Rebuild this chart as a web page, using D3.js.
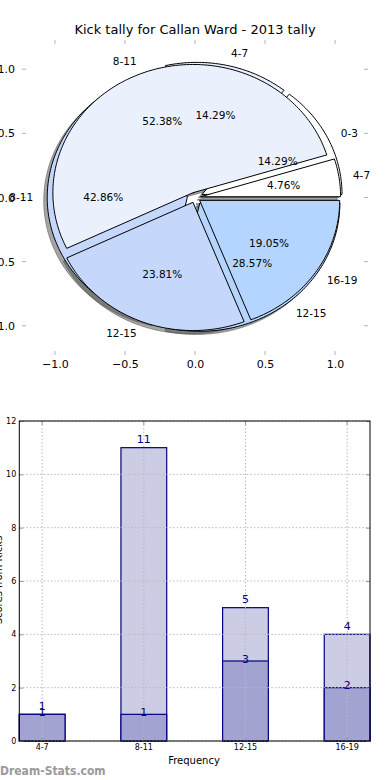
<!DOCTYPE html>
<html><head><meta charset="utf-8">
<script src="https://cdn.jsdelivr.net/npm/d3@7"></script>
<style>body{margin:0;background:#fff}svg{display:block;font-family:"DejaVu Sans",sans-serif}</style>
</head><body>
<svg id="c" width="390" height="780"></svg>
<script>
const title = "Kick tally for Callan Ward - 2013 tally";
const categories = ["4-7", "8-11", "12-15", "16-19"];
const kicks = [1, 11, 5, 4];
const scores = [1, 1, 3, 2];
const scoreLabels = ["0-3", "4-7", "8-11", "12-15"];
const pieTicks = [-1, -0.5, 0, 0.5, 1];
const barTicks = [0, 2, 4, 6, 8, 10, 12];
const xLabel = "Frequency";
const yLabel = "Scores from Kicks";
const watermark = "Dream-Stats.com";

const pieColors = ["#ffffff", "#eaf1fd", "#c5d8fb", "#b3d5ff"];
const navy = "#000080";

const svg = d3.select("#c");

// ---------- PIE ----------
const px = d3.scaleLinear().domain([-1.235, 1.235]).range([22, 368]);
const py = d3.scaleLinear().domain([-1.228, 1.228]).range([355, 40]);

svg.append("text").attr("x", 195).attr("y", 34).attr("text-anchor", "middle")
  .attr("font-size", 13).attr("fill", "#000").text(title);

const tickCol = "#b5b5b5";
const gT = svg.append("g");
pieTicks.forEach(t => {
  gT.append("line").attr("x1", px(t)).attr("x2", px(t)).attr("y1", 40).attr("y2", 44).attr("stroke", tickCol);
  gT.append("line").attr("x1", px(t)).attr("x2", px(t)).attr("y1", 355).attr("y2", 351).attr("stroke", tickCol);
  gT.append("line").attr("y1", py(t)).attr("y2", py(t)).attr("x1", 22).attr("x2", 26).attr("stroke", tickCol);
  gT.append("line").attr("y1", py(t)).attr("y2", py(t)).attr("x1", 368).attr("x2", 364).attr("stroke", tickCol);
});
const fmt = d3.format(".1f");
const axB = d3.axisBottom(px).tickValues(pieTicks).tickFormat(fmt).tickSize(0).tickPadding(5);
const gB = svg.append("g").attr("transform", "translate(0,355)").call(axB);
gB.select(".domain").remove();
gB.selectAll("text").attr("font-size", 11).attr("fill", "#000").attr("font-family", "DejaVu Sans");
const axL = d3.axisLeft(py).tickValues(pieTicks).tickFormat(fmt).tickSize(0).tickPadding(7);
const gL = svg.append("g").attr("transform", "translate(22,0)").call(axL);
gL.select(".domain").remove();
gL.selectAll("text").attr("font-size", 11).attr("fill", "#000").attr("font-family", "DejaVu Sans");

const line = d3.line().x(d => px(d[0])).y(d => py(d[1]));
function wedgePts(a0, a1, cx, cy, r) {
  const pts = [[cx, cy]];
  const n = Math.max(2, Math.ceil((a1 - a0) / 0.02));
  for (let i = 0; i <= n; i++) {
    const a = a0 + (a1 - a0) * i / n;
    pts.push([cx + r * Math.cos(a), cy + r * Math.sin(a)]);
  }
  return pts;
}
const pieGen = d3.pie().sort(null).startAngle(0).endAngle(2 * Math.PI);
function build(values, labels, explode) {
  return pieGen(values).map((d, i) => {
    const mid = (d.startAngle + d.endAngle) / 2;
    const cx = explode * Math.cos(mid), cy = explode * Math.sin(mid);
    return {a0: d.startAngle, a1: d.endAngle, mid, cx, cy, label: labels[i],
            pct: d.value / d3.sum(values) * 100, color: pieColors[i]};
  });
}
const pie2 = build(scores, scoreLabels, 0.055);
const pie1 = build(kicks, categories, 0.04);

const sOff = 0.025;
const gS = svg.append("g");
[pie2, pie1].forEach(p => p.forEach(w => {
  gS.append("path").attr("d", line(wedgePts(w.a0, w.a1, w.cx - sOff, w.cy - sOff, 1)) + "Z")
    .attr("fill", "#4d4d4d").attr("fill-opacity", 0.5).attr("stroke", "#4d4d4d").attr("stroke-opacity", 0.5);
}));
[pie2, pie1].forEach(p => p.forEach(w => {
  svg.append("path").attr("d", line(wedgePts(w.a0, w.a1, w.cx, w.cy, 1)) + "Z")
    .attr("fill", w.color).attr("stroke", "#000").attr("stroke-width", 1).attr("stroke-linejoin", "miter");
}));
[pie2, pie1].forEach(p => p.forEach(w => {
  const lx = w.cx + 1.1 * Math.cos(w.mid), ly = w.cy + 1.1 * Math.sin(w.mid);
  svg.append("text").attr("x", px(lx)).attr("y", py(ly)).attr("dy", "0.35em")
    .attr("text-anchor", lx > 0 ? "start" : "end").attr("font-size", 10.5).attr("fill", "#000").text(w.label);
  const tx = w.cx + 0.6 * Math.cos(w.mid), ty = w.cy + 0.6 * Math.sin(w.mid);
  svg.append("text").attr("x", px(tx)).attr("y", py(ty)).attr("dy", "0.35em")
    .attr("text-anchor", "middle").attr("font-size", 10.5).attr("fill", "#000").text(w.pct.toFixed(2) + "%");
}));

// ---------- BARS ----------
const L = 19.3, R = 370, T = 421, B = 741;
const bx = d3.scaleBand().domain(categories).range([L, R]).paddingInner(0.55).paddingOuter(0);
const by = d3.scaleLinear().domain([0, 12]).range([B, T]);

const gBars = svg.append("g");
categories.forEach((c, i) => {
  gBars.append("rect").attr("x", bx(c)).attr("width", bx.bandwidth())
    .attr("y", by(kicks[i])).attr("height", by(0) - by(kicks[i]))
    .attr("fill", "#ccccE5").attr("stroke", navy).attr("stroke-width", 1.2);
});
categories.forEach((c, i) => {
  gBars.append("rect").attr("x", bx(c)).attr("width", bx.bandwidth())
    .attr("y", by(scores[i])).attr("height", by(0) - by(scores[i]))
    .attr("fill", "#a3a3d2").attr("stroke", navy).attr("stroke-width", 1.2);
});

const gG = svg.append("g").attr("stroke", "#b8b8b8").attr("stroke-dasharray", "1.5,2").attr("stroke-width", 1);
barTicks.forEach(t => gG.append("line").attr("x1", L).attr("x2", R).attr("y1", by(t)).attr("y2", by(t)));
categories.forEach(c => {
  const cx = bx(c) + bx.bandwidth() / 2;
  gG.append("line").attr("x1", cx).attr("x2", cx).attr("y1", T).attr("y2", B);
});

const axX = d3.axisBottom(bx).tickSizeInner(-4).tickSizeOuter(0).tickPadding(3);
const gX = svg.append("g").attr("transform", `translate(0,${B})`).call(axX);
gX.select(".domain").remove();
gX.selectAll("line").attr("stroke", "#999");
gX.selectAll("text").attr("font-size", 8).attr("fill", "#000").attr("font-family", "DejaVu Sans");
const axY = d3.axisLeft(by).tickValues(barTicks).tickFormat(d3.format("d")).tickSizeInner(-4).tickSizeOuter(0).tickPadding(3);
const gY = svg.append("g").attr("transform", `translate(${L},0)`).call(axY);
gY.select(".domain").remove();
gY.selectAll("line").attr("stroke", "#999");
gY.selectAll("text").attr("font-size", 8).attr("fill", "#000").attr("font-family", "DejaVu Sans");
const axYR = d3.axisRight(by).tickValues(barTicks).tickFormat("").tickSizeInner(-4).tickSizeOuter(0);
const gYR = svg.append("g").attr("transform", `translate(${R},0)`).call(axYR);
gYR.select(".domain").remove();
gYR.selectAll("line").attr("stroke", "#999");
const axXT = d3.axisTop(bx).tickFormat("").tickSizeInner(-4).tickSizeOuter(0);
const gXT = svg.append("g").attr("transform", `translate(0,${T})`).call(axXT);
gXT.select(".domain").remove();
gXT.selectAll("line").attr("stroke", "#999");

svg.append("rect").attr("x", L).attr("y", T).attr("width", R - L).attr("height", B - T)
  .attr("fill", "none").attr("stroke", "#000").attr("stroke-width", 1);

categories.forEach((c, i) => {
  const cx = bx(c) + bx.bandwidth() / 2;
  svg.append("text").attr("x", cx).attr("y", by(kicks[i]) - 4.5).attr("text-anchor", "middle")
    .attr("font-size", 11).attr("fill", navy).text(kicks[i]);
  svg.append("text").attr("x", cx).attr("y", by(scores[i]) + 1.5).attr("text-anchor", "middle")
    .attr("font-size", 11).attr("fill", navy).text(scores[i]);
});

svg.append("text").attr("x", 194).attr("y", 764).attr("text-anchor", "middle")
  .attr("font-size", 10).attr("fill", "#000").text(xLabel);
svg.append("text").attr("transform", "translate(1.5,580) rotate(-90)").attr("text-anchor", "middle")
  .attr("font-size", 10).attr("fill", "#000").text(yLabel);

svg.append("text").attr("x", 0).attr("y", 775).attr("font-size", 12).attr("fill", "#9a9a9a")
  .attr("font-weight", "bold").attr("font-family", "DejaVu Sans Condensed, DejaVu Sans").text(watermark);
</script>
</body></html>
